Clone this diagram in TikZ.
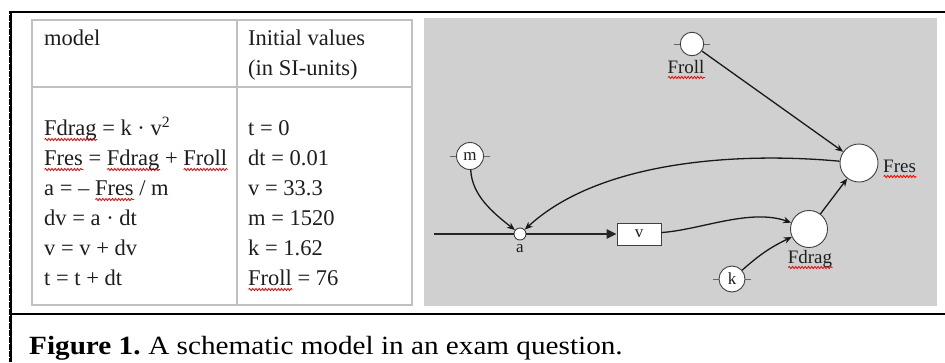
\documentclass[tikz,border=0pt]{standalone}
\usepackage{fontspec}
\setmainfont{Liberation Serif}
\usetikzlibrary{arrows.meta,decorations.pathmorphing}
\definecolor{panelgray}{RGB}{208,208,208}
\definecolor{tablegray}{RGB}{192,192,192}
\definecolor{ink}{RGB}{30,30,30}
\newsavebox\sqbox
\newcommand\sq[1]{\sbox\sqbox{#1}\rlap{\tikz[baseline=0pt,x=1pt,y=1pt]\draw[red,line width=0.8pt,decorate,decoration={snake,amplitude=1.1pt,segment length=3.2pt}] (0pt,-4.5pt) -- (\the\wd\sqbox,-4.5pt);}\usebox\sqbox}
\begin{document}
\begin{tikzpicture}[x=1pt,y=1pt,
  txt/.style={anchor=base west, inner sep=0, font=\fontsize{22.5}{30}\selectfont, text=ink},
  lbl/.style={inner sep=0, font=\fontsize{19}{22}\selectfont, text=ink},
  small/.style={font=\fontsize{17}{20}\selectfont, text=ink},
  cnode/.style={circle, draw=black!75, fill=white, line width=0.9, inner sep=0, minimum size=#1},
  conn/.style={line width=1.3, black!90, -{Stealth[length=8pt,width=6.5pt]}},
  tickmark/.style={draw=black!60, line width=0.9},
  flow/.style={line width=2.5, black!85},
  tline/.style={tablegray, line width=1.5},
]
\useasboundingbox (0,0) rectangle (945,-362);
\fill[white] (0,0) rectangle (945,-362);
% outer frame
\draw[line width=2] (9,-12) -- (945,-12);
\draw[line width=3] (10.5,-11) -- (10.5,-362);
\draw[white, line width=1, dash pattern=on 1 off 6] (9.5,-14) -- (9.5,-362);
\draw[line width=2] (10,-314) -- (945,-314);
% table
\draw[tline] (32,-20) rectangle (412,-305);
\draw[tline] (237,-20) -- (237,-305);
\draw[tline] (32,-87) -- (412,-87);
\node[txt] (hmodel) at (44,-45) {model};
\node[txt] (hinit1) at (248,-45) {Initial values};
\node[txt] (hinit2) at (248,-75) {(in SI-units)};
\node[txt] (l1) at (44,-135) {\sq{Fdrag} = k · v\textsuperscript{2}};
\node[txt] (l2) at (44,-165) {\sq{Fres} = \sq{Fdrag} + \sq{Froll}};
\node[txt] (l3) at (44,-195) {a = – \sq{Fres} / m};
\node[txt] (l4) at (44,-225) {dv = a · dt};
\node[txt] (l5) at (44,-255) {v = v + dv};
\node[txt] (l6) at (44,-285) {t = t + dt};
\node[txt] (r1) at (248,-135) {t = 0};
\node[txt] (r2) at (248,-165) {dt = 0.01};
\node[txt] (r3) at (248,-195) {v = 33.3};
\node[txt] (r4) at (248,-225) {m = 1520};
\node[txt] (r5) at (248,-255) {k = 1.62};
\node[txt] (r6) at (248,-285) {\sq{Froll} = 76};
% diagram panel
\fill[panelgray] (424,-18) rectangle (937,-306);
\coordinate (src) at (434,-234);
\node[cnode=23.5] (froll) at (692,-44) {};
\node[cnode=27, small] (m) at (470,-156) {m};
\node[cnode=12] (a) at (520,-234) {};
\node[cnode=37] (fdrag) at (809,-229) {};
\node[cnode=38] (fres) at (859,-163) {};
\node[cnode=26, small] (k) at (732,-279) {k};
\node[draw=black!75, fill=white, line width=0.9, minimum width=44, minimum height=22, inner sep=0, small] (v) at (639,-234) {v};
\foreach \n in {froll,m,k} {
  \draw[tickmark] (\n.west) -- ++(-6,0);
  \draw[tickmark] (\n.east) -- ++(6,0);
}
\node[lbl, anchor=base] (frolllbl) at (686,-73) {\sq{Froll}};
\node[lbl, anchor=base west] (freslbl) at (883,-172) {\sq{Fres}};
\node[lbl, anchor=base] (fdraglbl) at (810,-263) {\sq{Fdrag}};
\node[small, inner sep=0, anchor=base] (albl) at (520,-252) {a};
% flow
\draw[flow] (src) -- (a);
\draw[flow, -{Triangle[length=10pt,width=9pt]}] (a) -- (v);
% connectors
\draw[conn] (froll) -- (fres);
\draw[conn] (fdrag) -- (fres);
\draw[conn] (m) .. controls (472,-195) and (492,-212) .. (a);
\draw[conn] (fres) .. controls (740,-152) and (600,-160) .. (a);
\draw[conn] (v) .. controls (700,-230) and (750,-208) .. (fdrag);
\draw[conn] (k) to[bend left=8] (fdrag);
% caption
\node[anchor=base west, inner sep=0, font=\fontsize{29.2}{34}\selectfont, text=black] (cap) at (29,-354) {\scalebox{1}[0.9]{\textbf{Figure 1.}\hspace{-2pt} A schematic model in an exam question.}};
\end{tikzpicture}
\end{document}
